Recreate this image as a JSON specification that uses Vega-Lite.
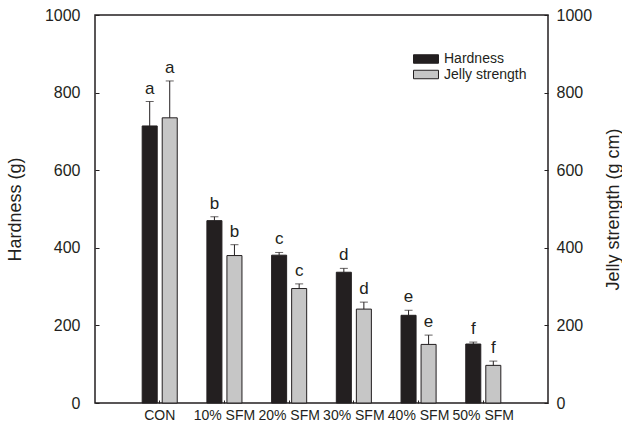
{
  "$schema": "https://vega.github.io/schema/vega-lite/v6.json",
  "width": 453,
  "height": 388,
  "autosize": {"type": "none"},
  "padding": {"left": 95, "top": 15, "right": 74, "bottom": 20},
  "background": "white",
  "config": {
    "font": "Liberation Sans",
    "view": {"stroke": "#231f20", "strokeWidth": 1.5},
    "axis": {"grid": false, "domain": false, "labelColor": "#231f20", "titleColor": "#231f20", "tickColor": "#231f20", "labelFont": "Liberation Sans", "titleFont": "Liberation Sans", "titleFontWeight": "normal"}
  },
  "data": {
    "values": [
      {"group": "CON", "measure": "Hardness", "value": 714, "upper": 777, "letter": "a"},
      {"group": "CON", "measure": "Jelly strength", "value": 735, "upper": 830, "letter": "a"},
      {"group": "10% SFM", "measure": "Hardness", "value": 470, "upper": 480, "letter": "b"},
      {"group": "10% SFM", "measure": "Jelly strength", "value": 380, "upper": 408, "letter": "b"},
      {"group": "20% SFM", "measure": "Hardness", "value": 381, "upper": 388, "letter": "c"},
      {"group": "20% SFM", "measure": "Jelly strength", "value": 295, "upper": 307, "letter": "c"},
      {"group": "30% SFM", "measure": "Hardness", "value": 337, "upper": 347, "letter": "d"},
      {"group": "30% SFM", "measure": "Jelly strength", "value": 242, "upper": 260, "letter": "d"},
      {"group": "40% SFM", "measure": "Hardness", "value": 226, "upper": 239, "letter": "e"},
      {"group": "40% SFM", "measure": "Jelly strength", "value": 151, "upper": 175, "letter": "e"},
      {"group": "50% SFM", "measure": "Hardness", "value": 152, "upper": 157, "letter": "f"},
      {"group": "50% SFM", "measure": "Jelly strength", "value": 97, "upper": 108, "letter": "f"}
    ]
  },
  "encoding": {
    "x": {
      "field": "group", "type": "nominal",
      "sort": ["CON", "10% SFM", "20% SFM", "30% SFM", "40% SFM", "50% SFM"],
      "scale": {"paddingInner": 0, "paddingOuter": 0.5},
      "axis": {"title": null, "labelAngle": 0, "labelFontSize": 14, "tickSize": -3, "labelPadding": 8, "labelFlush": false}
    }
  },
  "layer": [
    {
      "encoding": {
        "xOffset": {"field": "measure", "type": "nominal", "scale": {"paddingInner": 0.25, "paddingOuter": 0.74}},
        "y": {"field": "value", "type": "quantitative", "scale": {"domain": [0, 1000], "nice": false},
          "axis": {"title": "Hardness (g)", "orient": "left", "values": [0, 200, 400, 600, 800, 1000], "format": "d", "tickSize": -4, "labelPadding": 19, "labelFontSize": 16, "titleFontSize": 18, "titleAngle": 270, "titleX": -80, "titleY": 194, "titleBaseline": "middle", "titleAlign": "center"}}
      },
      "layer": [
        {
          "mark": {"type": "bar", "stroke": "#231f20", "strokeWidth": 1},
          "encoding": {
            "fill": {"field": "measure", "type": "nominal",
              "scale": {"domain": ["Hardness", "Jelly strength"], "range": ["#231f20", "#c6c6c6"]},
              "legend": {"title": null, "orient": "none", "legendX": 324, "legendY": 37, "padding": 0,
                "symbolType": "M-2,-0.68H2V0.68H-2Z", "symbolSize": 156, "symbolStrokeColor": "#231f20", "symbolStrokeWidth": 1,
                "labelFontSize": 14, "labelColor": "#231f20", "labelOffset": 11, "rowPadding": 1.5}}
          }
        },
        {
          "mark": {"type": "rule", "stroke": "#231f20", "strokeWidth": 1},
          "encoding": {"y2": {"field": "upper"}}
        },
        {
          "mark": {"type": "tick", "color": "#231f20", "size": 8, "thickness": 1, "orient": "horizontal"},
          "encoding": {"y": {"field": "upper", "type": "quantitative"}}
        },
        {
          "mark": {"type": "text", "dy": -8, "baseline": "alphabetic", "fontSize": 17, "color": "#231f20"},
          "encoding": {"y": {"field": "upper", "type": "quantitative"}, "text": {"field": "letter"}}
        }
      ]
    },
    {
      "mark": {"type": "point", "opacity": 0},
      "encoding": {
        "y": {"field": "value", "type": "quantitative", "scale": {"domain": [0, 1000], "nice": false},
          "axis": {"title": "Jelly strength (g cm)", "orient": "right", "values": [0, 200, 400, 600, 800, 1000], "format": "d", "tickSize": -4, "labelPadding": 12, "labelFontSize": 16, "titleFontSize": 18, "titleAngle": 270, "titleX": 65, "titleY": 194, "titleBaseline": "middle", "titleAlign": "center"}}
      }
    }
  ],
  "resolve": {"scale": {"y": "independent"}}
}
